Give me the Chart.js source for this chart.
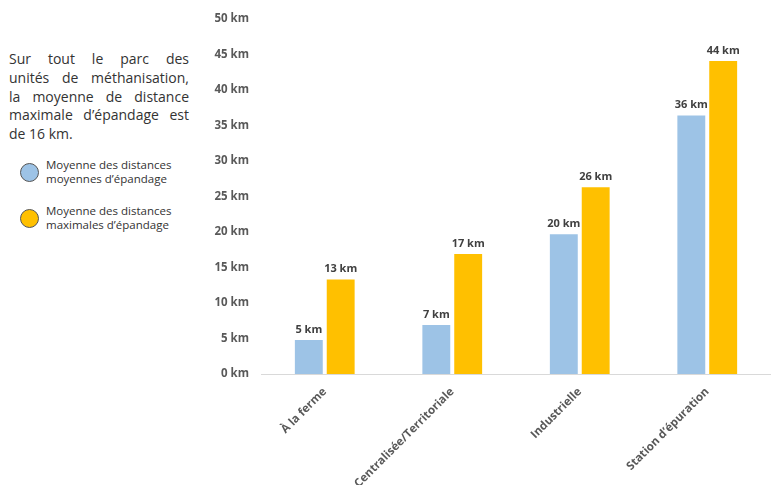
<!DOCTYPE html>
<html lang="fr">
<head>
<meta charset="utf-8">
<script src="https://cdn.jsdelivr.net/npm/chart.js@4.4.0/dist/chart.umd.min.js"></script>
<style>
  html, body { margin: 0; padding: 0; background: #fff; }
  body { width: 771px; height: 485px; position: relative; overflow: hidden; font-family: "Open Sans", sans-serif; }
  #note {
    position: absolute; left: 9px; top: 50px; width: 180px;
    font-size: 14px; line-height: 18.8px; color: #333;
  }
  #note div { text-align: justify; text-align-last: justify; white-space: nowrap; }
  #note div.last { text-align-last: left; }
  .leg { position: absolute; left: 20px; display: flex; align-items: center; font-size: 11.5px; line-height: 14px; color: #333; }
  .leg i { display: inline-block; width: 19px; height: 19px; border-radius: 50%; border: 1px solid #555; margin-right: 7px; box-sizing: border-box; }
  #wrap { position: absolute; left: 195px; top: 0; width: 576px; height: 485px; }
</style>
</head>
<body>
<div id="note">
  <div>Sur tout le parc des</div>
  <div>unités de méthanisation,</div>
  <div>la moyenne de distance</div>
  <div>maximale d’épandage est</div>
  <div class="last">de 16 km.</div>
</div>
<div class="leg" style="top:158px"><i style="background:#9DC3E6"></i><span>Moyenne des distances<br>moyennes d’épandage</span></div>
<div class="leg" style="top:204px"><i style="background:#FFC000"></i><span>Moyenne des distances<br>maximales d’épandage</span></div>
<div id="wrap"><canvas id="chart"></canvas></div>
<script>
const categories = ['À la ferme', 'Centralisée/Territoriale', 'Industrielle', 'Station d’épuration'];
const moyennes = [4.8, 6.9, 19.7, 36.4];
const maximales = [13.3, 16.9, 26.3, 44.1];
const yTicks = [0, 5, 10, 15, 20, 25, 30, 35, 40, 45, 50];

// labels above each bar, rounded like the original
const valueLabels = {
  id: 'valueLabels',
  afterDatasetsDraw(chart) {
    const ctx = chart.ctx;
    ctx.save();
    ctx.font = 'bold 11px "Open Sans", sans-serif';
    ctx.fillStyle = '#404040';
    ctx.textAlign = 'center';
    ctx.textBaseline = 'bottom';
    chart.data.datasets.forEach((ds, i) => {
      chart.getDatasetMeta(i).data.forEach((bar, j) => {
        ctx.fillText(Math.round(ds.data[j]) + ' km', bar.x, bar.y - 5);
      });
    });
    ctx.restore();
  }
};

new Chart(document.getElementById('chart'), {
  type: 'bar',
  data: {
    labels: categories,
    datasets: [
      { label: 'Moyenne des distances moyennes d’épandage', data: moyennes, backgroundColor: '#9DC3E6' },
      { label: 'Moyenne des distances maximales d’épandage', data: maximales, backgroundColor: '#FFC000' }
    ]
  },
  options: {
    responsive: true,
    maintainAspectRatio: false,
    animation: false,
    layout: { padding: { top: 19, right: 0, bottom: 0, left: 0 } },
    categoryPercentage: 0.5,
    barPercentage: 0.875,
    plugins: { legend: { display: false }, tooltip: { enabled: false } },
    scales: {
      x: {
        grid: { display: false },
        border: { display: true, color: '#d9d9d9', width: 1 },
        ticks: {
          minRotation: 45, maxRotation: 45, color: '#595959',
          font: { family: '"Open Sans", sans-serif', size: 11.5, weight: 'bold' }
        },
        afterFit(scale) { scale.height = 111; }
      },
      y: {
        min: 0, max: 50,
        grid: { display: false },
        border: { display: false },
        afterBuildTicks(scale) { scale.ticks = yTicks.map(v => ({ value: v })); },
        ticks: {
          padding: 4, color: '#595959',
          font: { family: '"Open Sans", sans-serif', size: 11.5, weight: 'bold' },
          callback: v => v + ' km'
        },
        afterFit(scale) { scale.width = 66; }
      }
    }
  },
  plugins: [valueLabels]
});
</script>
</body>
</html>
